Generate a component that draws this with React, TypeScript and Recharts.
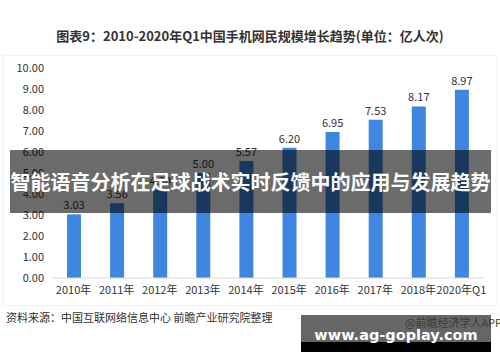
import React from 'react';
import { BarChart, Bar, XAxis, YAxis, LabelList } from 'recharts';

const years = ['2010年', '2011年', '2012年', '2013年', '2014年', '2015年', '2016年', '2017年', '2018年', '2020年Q1'];
const users = [3.03, 3.56, 4.2, 5.0, 5.57, 6.2, 6.95, 7.53, 8.17, 8.97];
const yTicks = [0, 1, 2, 3, 4, 5, 6, 7, 8, 9, 10];

const chartData = years.map((year, i) => ({ year, value: users[i] }));

const FONT = '"Noto Sans CJK SC", "Noto Sans", sans-serif';

const App: React.FC = () => {
  return (
    <div
      style={{
        position: 'fixed',
        left: 0,
        top: 0,
        width: 500,
        height: 362,
        background: '#fff',
        overflow: 'hidden',
        fontFamily: FONT,
      }}
    >
      {/* 图表外框 */}
      <div
        style={{
          position: 'absolute',
          left: 2,
          top: 55,
          width: 494,
          height: 249,
          border: '1px solid #eef1f8',
        }}
      />
      <div
        style={{
          position: 'absolute',
          left: 0,
          top: 26,
          width: 500,
          textAlign: 'center',
          fontSize: 13,
          fontWeight: 'bold',
          color: '#333',
          lineHeight: '20px',
        }}
      >
        图表9：2010-2020年Q1中国手机网民规模增长趋势(单位：亿人次)
      </div>

      <div style={{ position: 'absolute', left: 0, top: 0 }}>
        <BarChart
          width={500}
          height={362}
          data={chartData}
          margin={{ top: 68, right: 17, bottom: 54, left: 0 }}
        >
          <XAxis
            dataKey="year"
            height={30}
            interval={0}
            tickLine={false}
            axisLine={{ stroke: '#d9d9d9' }}
            tick={{ fontSize: 11, fill: '#333', fontFamily: FONT }}
          />
          <YAxis
            width={52}
            domain={[0, 10]}
            ticks={yTicks}
            interval={0}
            tickLine={false}
            axisLine={false}
            tickFormatter={(v: number) => v.toFixed(2)}
            tick={{ fontSize: 11, fill: '#333', fontFamily: FONT }}
          />
          <Bar dataKey="value" fill="#3e86e0" barSize={14} isAnimationActive={false}>
            <LabelList
              dataKey="value"
              position="top"
              formatter={(v: number) => v.toFixed(2)}
              style={{ fontSize: 11, fill: '#333', fontFamily: FONT }}
            />
          </Bar>
        </BarChart>
      </div>

      {/* 横幅 */}
      <div
        style={{
          position: 'absolute',
          left: 10,
          top: 150,
          width: 481,
          height: 63,
          background: 'rgba(0,0,0,0.58)',
          color: '#fff',
          fontSize: 20,
          fontWeight: 'bold',
          lineHeight: '63px',
          textAlign: 'center',
          whiteSpace: 'nowrap',
        }}
      >
        智能语音分析在足球战术实时反馈中的应用与发展趋势
      </div>

      <div
        style={{
          position: 'absolute',
          left: 6,
          top: 309,
          fontSize: 11,
          color: '#333',
          lineHeight: '16px',
          whiteSpace: 'nowrap',
        }}
      >
        资料来源：中国互联网络信息中心 前瞻产业研究院整理
      </div>

      {/* 水印 */}
      <div style={{ position: 'absolute', left: 301, top: 315, width: 190, height: 27, background: '#666' }} />
      <div style={{ position: 'absolute', left: 301, top: 342, width: 190, height: 10, background: '#000' }} />
      <div
        style={{
          position: 'absolute',
          left: 405,
          top: 315,
          fontSize: 11,
          color: '#3a3a3a',
          lineHeight: '15px',
          whiteSpace: 'nowrap',
        }}
      >
        @前瞻经济学人APP
      </div>
      <div
        style={{
          position: 'absolute',
          left: 301,
          top: 325,
          width: 190,
          textAlign: 'center',
          fontSize: 14.5,
          fontWeight: 'bold',
          color: '#fff',
          fontFamily: '"DejaVu Sans", sans-serif',
          lineHeight: '20px',
          whiteSpace: 'nowrap',
        }}
      >
        www.ag-goplay.com
      </div>
    </div>
  );
};

export default App;
